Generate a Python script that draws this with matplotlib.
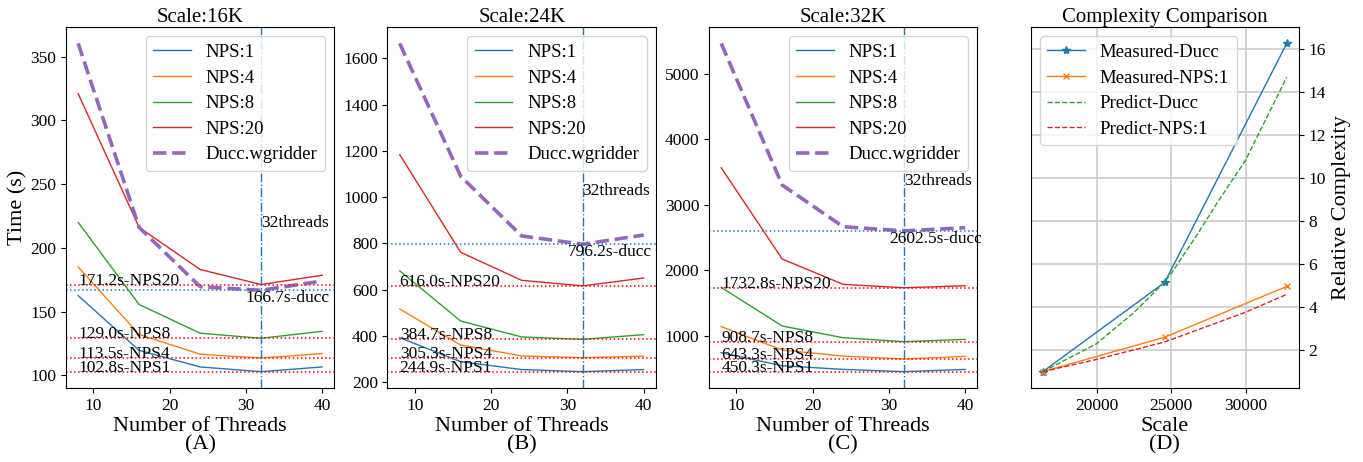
import matplotlib
matplotlib.use('Agg')
import matplotlib.pyplot as plt

plt.rcParams['font.family'] = ['Liberation Serif', 'DejaVu Serif']

# ── data ─────────────────────────────────────────────────────────────────────
threads = [8, 16, 24, 32, 40]
nps_levels = [1, 4, 8, 20]
scale_titles = ['Scale:16K', 'Scale:24K', 'Scale:32K']
panel_tags = ['(A)', '(B)', '(C)']

# time (s) per NPS level, one list per scale
time_16k = {1: [162.5, 119.5, 106.5, 102.8, 106.5],
            4: [185.0, 132.0, 116.5, 113.5, 117.0],
            8: [220.0, 155.5, 133.0, 129.0, 134.5],
            20: [321.0, 216.0, 183.0, 171.2, 178.5]}
ducc_16k = [360.5, 216.0, 169.5, 166.7, 174.0]

time_24k = {1: [392.0, 288.0, 254.0, 244.9, 254.0],
            4: [516.0, 360.0, 313.0, 305.3, 312.0],
            8: [681.0, 464.0, 395.0, 384.7, 405.0],
            20: [1184.0, 761.0, 640.0, 616.0, 650.0]}
ducc_24k = [1665.0, 1090.0, 832.0, 796.2, 836.0]

time_32k = {1: [740.0, 541.0, 485.0, 450.3, 485.0],
            4: [1138.0, 781.0, 689.0, 643.3, 684.0],
            8: [1739.0, 1148.0, 969.0, 908.7, 944.0],
            20: [3568.0, 2172.0, 1785.0, 1732.8, 1764.0]}
ducc_32k = [5469.0, 3303.0, 2666.0, 2602.5, 2651.0]

# complexity comparison
scales = [16384, 24576, 32768]
measured_ducc = [1.0, 5.15, 16.25]
measured_nps1 = [1.0, 2.6, 4.96]
predict_ducc_x = [16384, 20000, 22557, 24456, 25000, 26805, 28148, 30000, 32768]
predict_ducc_y = [1.0, 2.3, 3.78, 5.09, 5.55, 7.42, 8.9, 10.82, 14.68]
predict_nps1_x = [16384, 20000, 24576, 30000, 32768]
predict_nps1_y = [1.0, 1.57, 2.38, 3.76, 4.59]

nps_colors = {1: 'tab:blue', 4: 'tab:orange', 8: 'tab:green', 20: 'tab:red'}
tick_fs = 12.5
label_fs = 16
anno_fs = 12.5

fig, axes = plt.subplots(1, 4, figsize=(13.63, 4.62), dpi=100)
fig.subplots_adjust(left=0.0484, right=0.953, bottom=0.160, top=0.9416,
                    wspace=0.198)

panels = [(time_16k, ducc_16k, 1.30), (time_24k, ducc_24k, 1.265),
          (time_32k, ducc_32k, 1.27)]

for ax, (times, ducc, tfac), title, tag in zip(axes[:3], panels,
                                               scale_titles, panel_tags):
    for n in nps_levels:
        ax.plot(threads, times[n], color=nps_colors[n], lw=1.0,
                label=f'NPS:{n}')
    ax.plot(threads, ducc, color='tab:purple', ls='--', lw=2.6,
            label='Ducc.wgridder')

    # reference lines at the 32-thread values
    i32 = threads.index(32)
    for n in nps_levels:
        v = times[n][i32]
        ax.axhline(v, color='red', ls=':', lw=1.1)
        ax.text(threads[0], v, f'{v:.1f}s-NPS{n}', ha='left',
                va='baseline', fontsize=anno_fs)
    dv = ducc[i32]
    ax.axhline(dv, color='tab:blue', ls=':', lw=1.1)
    ax.text(30, dv, f'{dv:.1f}s-ducc', ha='left', va='top', fontsize=anno_fs)
    ax.axvline(32, color='tab:blue', ls='-.', lw=1.0)
    ax.text(32, dv * tfac, '32threads', ha='left', va='baseline',
            fontsize=anno_fs)

    ax.set_title(title, fontsize=15, pad=3)
    ax.set_xlabel(f'Number of Threads\n{tag}', fontsize=label_fs,
                  linespacing=1.0, labelpad=2)
    ax.tick_params(labelsize=tick_fs)
    ax.legend(loc='upper right', fontsize=13.5, labelspacing=0.45)

axes[0].set_ylabel('Time (s)', fontsize=label_fs, labelpad=2)

# ── complexity panel ─────────────────────────────────────────────────────────
axd = axes[3]
axd.plot(scales, measured_ducc, color='tab:blue', marker='*', ms=6, lw=1.0,
         label='Measured-Ducc')
axd.plot(scales, measured_nps1, color='tab:orange', marker='x', ms=5, lw=1.0,
         label='Measured-NPS:1')
axd.plot(predict_ducc_x, predict_ducc_y, color='tab:green', ls='--', lw=1.0,
         label='Predict-Ducc')
axd.plot(predict_nps1_x, predict_nps1_y, color='tab:red', ls='--', lw=1.0,
         label='Predict-NPS:1')
axd.grid(True, color='#cccccc', lw=1.2)
axd.yaxis.tick_right()
axd.yaxis.set_label_position('right')
axd.set_ylabel('Relative Complexity', fontsize=label_fs, labelpad=4)
axd.set_xlabel('Scale\n(D)', fontsize=label_fs, linespacing=1.0, labelpad=2)
axd.set_title('Complexity Comparison', fontsize=15, pad=3)
axd.tick_params(labelsize=tick_fs)
axd.legend(loc='upper left', fontsize=13.5, labelspacing=0.45)

fig.savefig('out.png', dpi=100)
